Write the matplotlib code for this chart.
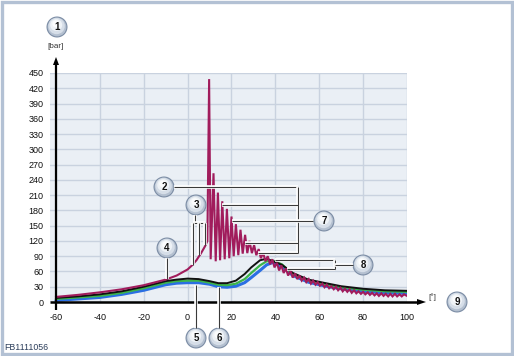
import matplotlib
matplotlib.use("Agg")
import matplotlib.pyplot as plt
from matplotlib.patches import Circle, Rectangle, FancyArrow
import matplotlib.patheffects as pe

plt.rcParams['font.family'] = ['Liberation Sans', 'DejaVu Sans']

# ---------------- data ----------------
x_ticks = [-60, -40, -20, 0, 20, 40, 60, 80, 100]
y_ticks = [0, 30, 60, 90, 120, 150, 180, 210, 240, 270, 300, 330, 360, 390, 420, 450]

# knocking combustion (crimson)
knock_x = [-60, -50, -40, -30, -20, -10, -5, 0, 2, 4, 6, 8, 9,
           9.8, 10.5, 11.8, 12.8, 13.8, 14.8, 15.8, 16.9, 17.9, 19.0, 20.0, 21.0,
           22.0, 23.1, 24.1, 25.1, 26.2, 27.2, 28.2, 29.3, 30.3, 31.3, 32.4, 33.4,
           34.4, 35.5, 36.5, 37.6, 38.6, 39.6, 40.7, 41.7, 42.7, 43.8, 44.8, 45.8,
           46.9, 47.9, 49.0, 50.0, 51.0, 52.0, 53.1, 54.1, 55.2, 56.2, 57.2, 58.3,
           59.3, 60.3, 61.4, 62.4, 63.4, 64.5, 65.5, 66.6, 67.6, 68.6, 69.7, 70.7,
           71.7, 72.8, 73.8, 74.8, 75.9, 76.9, 77.9, 79.0, 80.0, 81.0, 82.1, 83.1,
           84.1, 85.2, 86.2, 87.2, 88.3, 89.3, 90.3, 91.4, 92.4, 93.4, 94.5, 95.5,
           96.6, 97.6, 98.6, 100.0]
knock_y = [10, 14, 19, 25, 33, 44, 52, 64, 72, 82, 95, 110, 120,
           438, 84, 253, 80, 215, 82, 198, 84, 183, 86, 168, 90,
           153, 92, 142, 95, 132, 96, 120, 96, 112, 92, 104, 86,
           97, 80, 90, 74, 84, 68, 77, 62, 72, 57, 66, 52,
           61, 48, 56, 45, 52, 42, 48, 39, 45, 36, 42, 34,
           39, 32, 36, 29, 34, 27, 31, 25, 30, 23, 28, 21,
           26, 20, 25, 18, 23, 17, 21, 16, 20, 15, 19, 14,
           18, 13, 17, 12, 17, 12, 16, 11, 16, 11, 16, 11,
           15, 11, 15, 12]

smooth_x = [-60, -50, -40, -30, -20, -10, -5, 0, 5, 10, 14, 18, 22, 26, 29, 33,
            36, 39, 43, 48, 55, 63, 70, 80, 90, 100]
black_y = [8, 11, 15, 21, 30, 41, 44, 46, 45, 41, 37, 37, 42, 55, 68, 82,
           85, 80, 73, 57, 44, 37, 31, 26, 23, 22]
green_y = [6, 9, 12, 18, 27, 38, 41, 42, 42, 38, 34, 33, 36, 45, 57, 72,
           80, 81, 74, 54, 42, 35, 29, 24, 21, 20]
blue_y = [3, 6, 9, 15, 23, 34, 37, 38, 38, 35, 30, 29, 31, 38, 48, 62,
          73, 78, 70, 52, 39, 31, 26, 21, 18, 17]

W, H = 514, 356
fig = plt.figure(figsize=(W / 100, H / 100), dpi=100)
fig.patch.set_facecolor('white')

# data axes: px 50..407 horizontally, 73..302 vertically
ax = fig.add_axes([50 / W, (H - 302) / H, 357 / W, 229 / H])
ax.set_facecolor('#eaeff5')
ax.set_xlim(-60 - 6 / 2.194, 100)
ax.set_ylim(0, 450)
for s in ax.spines.values():
    s.set_visible(False)
ax.set_xticks(x_ticks)
ax.set_yticks(y_ticks)
ax.set_xticklabels([str(v) for v in x_ticks], fontsize=6.5, color='#111')
ax.set_yticklabels([str(v) for v in y_ticks], fontsize=6.5, color='#111')
ax.tick_params(axis='both', length=0)
ax.tick_params(axis='y', pad=4.5)
ax.tick_params(axis='x', pad=8)
ax.grid(True, color='#c9d2df', lw=1.0)
ax.set_axisbelow(True)

ax.plot(smooth_x, blue_y, color='#2b6fe3', lw=2.2, solid_capstyle='round')
ax.plot(smooth_x, green_y, color='#3cb44b', lw=1.6)
ax.plot(smooth_x, black_y, color='#111111', lw=1.4)
ax.plot(knock_x, knock_y, color='#a11c5c', lw=1.5, solid_joinstyle='miter')

# overlay in pixel coordinates for annotations
ov = fig.add_axes([0, 0, 1, 1], zorder=10)
ov.set_xlim(0, W)
ov.set_ylim(H, 0)
ov.axis('off')
ov.patch.set_alpha(0)

# outer frame
ov.add_patch(Rectangle((1.5, 1.5), W - 3.5, H - 3.5, fill=False, ec='#b3c1d4', lw=2.4))

# axes arrows
ov.plot([56, 56], [310, 64], color='black', lw=1.6, solid_capstyle='butt')
ov.add_patch(FancyArrow(56, 66, 0, -1, width=0, head_width=6, head_length=8,
                        length_includes_head=False, color='black', lw=0))
ov.plot([50, 418], [302, 302], color='black', lw=1.8, solid_capstyle='butt')
ov.add_patch(FancyArrow(416, 302, 1, 0, width=0, head_width=6, head_length=9,
                        length_includes_head=False, color='black', lw=0))

ov.text(56, 47, '[bar]', fontsize=5.8, ha='center', va='center', color='#333')
ov.text(432, 297.5, '[°]', fontsize=5.8, ha='center', va='center', color='#333')
ov.text(4, 347, 'FB1111056', fontsize=6.3, ha='left', va='center', color='#2b3d5a')

halo = [pe.withStroke(linewidth=2.6, foreground='white')]


def seg(xs, ys):
    ov.plot(xs, ys, color='#3a3a3a', lw=0.8, path_effects=halo, solid_capstyle='butt')


# leader lines
seg([174, 298], [187, 187])
seg([298, 298], [187, 253])
seg([222, 298], [205, 205])
seg([245, 298], [243, 243])
seg([258, 298], [253, 253])
seg([232, 313], [221, 221])
seg([195, 195], [215, 223])
seg([193, 205], [223, 223])
seg([193, 193], [223, 265])
seg([199, 199], [223, 255])
seg([205, 205], [223, 245])
seg([167, 167], [258, 279])
seg([196, 196], [328, 285])
seg([219, 219], [328, 287])
seg([275, 335], [260, 260])
seg([287, 335], [269, 269])
seg([335, 335], [260, 269])
seg([335, 353], [265, 265])


def callout(cx, cy, label):
    ov.add_patch(Circle((cx, cy), 10.5, fc='#7c8da5', ec='none'))
    ov.add_patch(Circle((cx, cy), 9.4, fc='#b4c0d0', ec='none'))
    ov.add_patch(Circle((cx - 0.4, cy - 1.0), 8.2, fc='#d6dee8', ec='none'))
    ov.add_patch(Circle((cx - 0.8, cy - 2.0), 6.0, fc='#eef2f6', ec='none'))
    ov.add_patch(Circle((cx - 1.2, cy - 3.2), 3.5, fc='#fbfcfd', ec='none'))
    ov.text(cx, cy + 0.3, label, fontsize=7, fontweight='bold', ha='center',
            va='center', color='#111')


callout(57, 27, '1')
callout(164, 187, '2')
callout(196, 205, '3')
callout(167, 248, '4')
callout(196, 338, '5')
callout(219, 338, '6')
callout(324, 221, '7')
callout(363, 265, '8')
callout(457, 302, '9')

fig.savefig('out.png', dpi=100, facecolor='white')
